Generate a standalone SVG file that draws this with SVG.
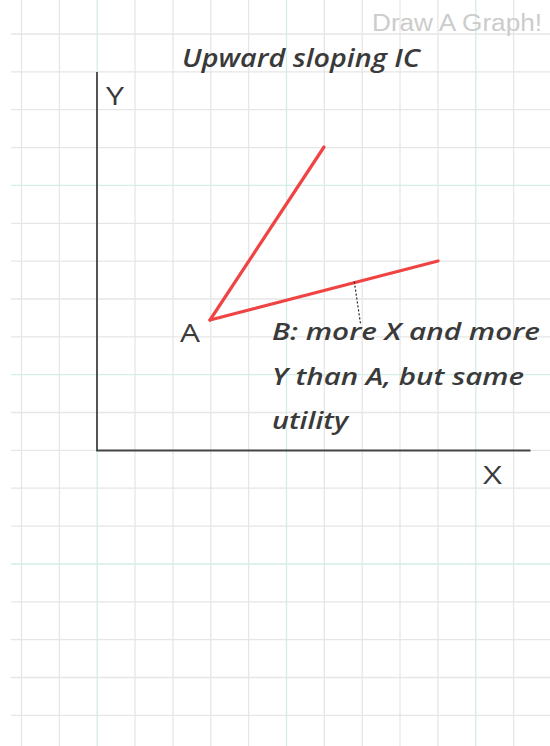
<svg xmlns="http://www.w3.org/2000/svg" width="550" height="746" viewBox="0 0 550 746">
<style>
.g{stroke:#e6e6e6;stroke-width:1.3}
.gg{stroke:#d2eee7;stroke-width:1.3}
.ax{stroke:#444;stroke-width:1.8;fill:none}
.ic{stroke:#f04444;stroke-width:3.2;stroke-linecap:round;fill:none}
.lbl{font-family:"Open Sans","DejaVu Sans",sans-serif;fill:#3a3a3a}
.hw{font-family:"Open Sans","DejaVu Sans",sans-serif;font-style:italic;font-weight:600;fill:#3a3a3a}
</style>
<rect width="550" height="746" fill="#ffffff"/>
<g id="grid">
<line class="g" x1="21.5" y1="0" x2="21.5" y2="746"/>
<line class="g" x1="59.4" y1="0" x2="59.4" y2="746"/>
<line class="g" x1="135" y1="0" x2="135" y2="746"/>
<line class="g" x1="173" y1="0" x2="173" y2="746"/>
<line class="g" x1="210.8" y1="0" x2="210.8" y2="746"/>
<line class="g" x1="248.6" y1="0" x2="248.6" y2="746"/>
<line class="g" x1="324.3" y1="0" x2="324.3" y2="746"/>
<line class="g" x1="362.2" y1="0" x2="362.2" y2="746"/>
<line class="g" x1="400" y1="0" x2="400" y2="746"/>
<line class="g" x1="437.9" y1="0" x2="437.9" y2="746"/>
<line class="g" x1="513.6" y1="0" x2="513.6" y2="746"/>
<line class="g" x1="11" y1="34" x2="550" y2="34"/>
<line class="g" x1="11" y1="71.9" x2="550" y2="71.9"/>
<line class="g" x1="11" y1="109.7" x2="550" y2="109.7"/>
<line class="g" x1="11" y1="147.6" x2="550" y2="147.6"/>
<line class="g" x1="11" y1="223.3" x2="550" y2="223.3"/>
<line class="g" x1="11" y1="261.1" x2="550" y2="261.1"/>
<line class="g" x1="11" y1="299" x2="550" y2="299"/>
<line class="g" x1="11" y1="336.8" x2="550" y2="336.8"/>
<line class="g" x1="11" y1="412.5" x2="550" y2="412.5"/>
<line class="g" x1="11" y1="450.4" x2="550" y2="450.4"/>
<line class="g" x1="11" y1="488.2" x2="550" y2="488.2"/>
<line class="g" x1="11" y1="526.1" x2="550" y2="526.1"/>
<line class="g" x1="11" y1="601.8" x2="550" y2="601.8"/>
<line class="g" x1="11" y1="639.6" x2="550" y2="639.6"/>
<line class="g" x1="11" y1="677.5" x2="550" y2="677.5"/>
<line class="g" x1="11" y1="715.3" x2="550" y2="715.3"/>
<line class="gg" x1="97.2" y1="0" x2="97.2" y2="746"/>
<line class="gg" x1="286.5" y1="0" x2="286.5" y2="746"/>
<line class="gg" x1="475.8" y1="0" x2="475.8" y2="746"/>
<line class="gg" x1="11" y1="185.4" x2="550" y2="185.4"/>
<line class="gg" x1="11" y1="374.7" x2="550" y2="374.7"/>
<line class="gg" x1="11" y1="564" x2="550" y2="564"/>
</g>
<text x="542" y="31" text-anchor="end" font-family="'Liberation Sans',Arial,sans-serif" font-size="23" fill="#cccccc" textLength="170" lengthAdjust="spacingAndGlyphs">Draw A Graph!</text>
<g id="title"><text class="hw" x="182" y="67" font-size="25" textLength="238" lengthAdjust="spacingAndGlyphs">Upward sloping IC</text></g>
<g id="axes">
<polyline class="ax" points="97,72 97,450.5 530.5,450.5"/>
<text class="lbl" x="106" y="105" font-size="26" textLength="18" lengthAdjust="spacingAndGlyphs">Y</text>
<text class="lbl" x="483" y="484" font-size="26" textLength="19" lengthAdjust="spacingAndGlyphs">X</text>
</g>
<g id="curves">
<line class="ic" x1="210" y1="320" x2="324" y2="147"/>
<line class="ic" x1="210" y1="320" x2="438" y2="261"/>
<line x1="354.3" y1="281.7" x2="360.7" y2="325" stroke="#222" stroke-width="1.2" stroke-dasharray="2,2"/>
</g>
<g id="labelA"><text class="lbl" x="180" y="342" font-size="25" textLength="20" lengthAdjust="spacingAndGlyphs">A</text></g>
<g id="labelB">
<text class="hw" x="272" y="340" font-size="23" textLength="268" lengthAdjust="spacingAndGlyphs">B: more X and more</text>
<text class="hw" x="272" y="385" font-size="23" textLength="252" lengthAdjust="spacingAndGlyphs">Y than A, but same</text>
<text class="hw" x="272" y="429" font-size="23" textLength="76" lengthAdjust="spacingAndGlyphs">utility</text>
</g>
</svg>
